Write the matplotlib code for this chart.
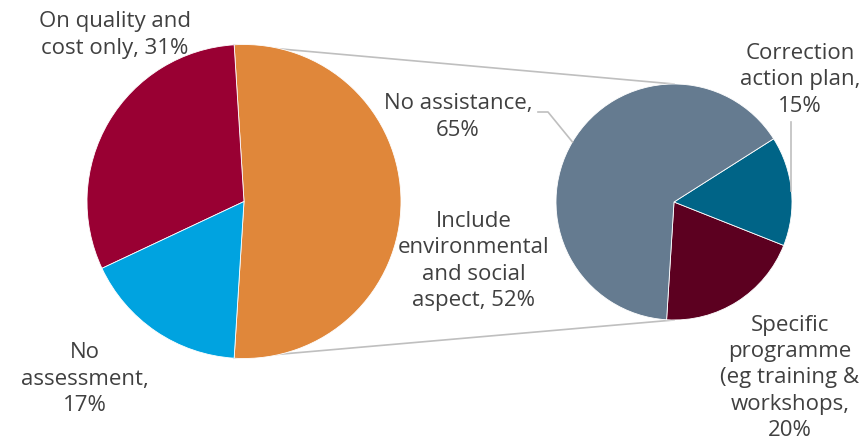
import numpy as np
import matplotlib
matplotlib.use("Agg")
import matplotlib.pyplot as plt

# main pie
main_labels = ["Include\nenvironmental\nand social\naspect, 52%",
               "On quality and\ncost only, 31%",
               "No\nassessment,\n17%"]
main_values = [52, 31, 17]
main_colors = ["#E0873A", "#990033", "#00A3E0"]

# breakdown of the 52% slice
sub_labels = ["Specific\nprogramme\n(eg training &\nworkshops,\n20%",
              "Correction\naction plan,\n15%",
              "No assistance,\n65%"]
sub_values = [20, 15, 65]
sub_colors = ["#5C0020", "#006487", "#657B90"]

W, H = 867, 441
fig = plt.figure(figsize=(W / 100, H / 100), dpi=100)
ax = fig.add_axes([0, 0, 1, 1])

c1, r1 = (244, 239.5), 157
c2, r2 = (674, 239), 118
start = -main_values[0] / 100 * 360 / 2

wp = dict(edgecolor="white", linewidth=0.6)
ax.pie(main_values, colors=main_colors, startangle=start, center=c1,
       radius=r1, frame=True, wedgeprops=wp)
ax.pie(sub_values, colors=sub_colors, startangle=start, center=c2,
       radius=r2, frame=True, wedgeprops=wp)

# connector lines between the two pies
line_col = "#BFBFBF"
for ang, y2 in [(-start, c2[1] + r2), (start, c2[1] - r2)]:
    x1 = c1[0] + r1 * np.cos(np.radians(ang))
    y1 = c1[1] + r1 * np.sin(np.radians(ang))
    ax.plot([x1, c2[0]], [y1, y2], color=line_col, lw=1.2, zorder=0)

txt = dict(fontsize=16, color="#404040", ha="center", va="center",
           family=["Open Sans", "DejaVu Sans"], linespacing=1.32)

ax.text(115, H - 35, main_labels[1], **txt)
ax.text(85, H - 379, main_labels[2], **txt)
ax.text(474, H - 261, main_labels[0], **txt)

ax.text(458, H - 117, sub_labels[2], **txt)
ax.text(800, H - 80, sub_labels[1], **txt)
ax.text(790, H - 378, sub_labels[0], **txt)

# leader lines to the small pie
def edge(mid_deg):
    return (c2[0] + r2 * np.cos(np.radians(mid_deg)),
            c2[1] + r2 * np.sin(np.radians(mid_deg)))

cum = np.cumsum([0] + sub_values) / 100 * 360 + start
mids = (cum[:-1] + cum[1:]) / 2

ex, ey = edge(mids[2])
ax.plot([538, 548, ex], [H - 112, H - 112, ey], color=line_col, lw=1.2)
ex, ey = edge(mids[1])
ax.plot([ex, ex], [H - 122, ey], color=line_col, lw=1.2)

ax.set_xlim(0, W)
ax.set_ylim(0, H)
ax.set_aspect("equal")
ax.axis("off")
fig.savefig("out.png", dpi=100)
